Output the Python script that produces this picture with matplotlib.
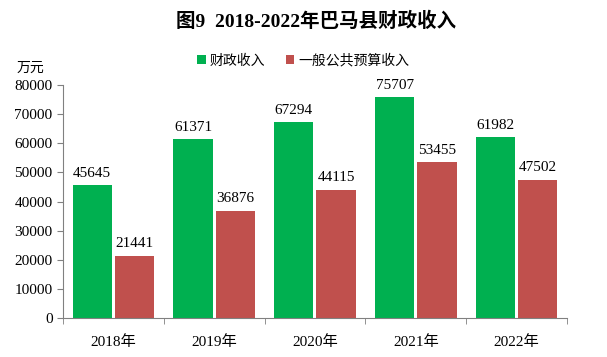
import matplotlib.pyplot as plt
import numpy as np

years = ["2018年", "2019年", "2020年", "2021年", "2022年"]
fiscal = [45645, 61371, 67294, 75707, 61982]
budget = [21441, 36876, 44115, 53455, 47502]
series_names = ["财政收入", "一般公共预算收入"]

fam = ['Liberation Serif', 'Noto Sans CJK SC']
plt.rcParams['font.family'] = fam

fig = plt.figure(figsize=(6.07, 3.57), dpi=100)
ax = fig.add_axes([0.1038, 0.109, 0.8302, 0.653])

x = np.arange(len(years))
w = 0.39
g = 0.015
b1 = ax.bar(x - w / 2 - g, fiscal, w, color='#00B050', label=series_names[0])
b2 = ax.bar(x + w / 2 + g, budget, w, color='#C0504D', label=series_names[1])

for bars in (b1, b2):
    for r in bars:
        ax.text(r.get_x() + r.get_width() / 2, r.get_height() + 1800, str(int(r.get_height())),
                ha='center', va='bottom', fontsize=11)

ax.set_xlim(-0.5, len(years) - 0.5)
ax.set_ylim(0, 80000)
ax.set_yticks(range(0, 80001, 10000))
ax.tick_params(axis='y', labelsize=11, length=4, color='#808080', direction='out')
ax.set_xticks(x)
ax.set_xticklabels(years, fontsize=11)
ax.tick_params(axis='x', length=0, pad=12)
ax.set_xticks(np.arange(-0.5, len(years)), minor=True)
ax.tick_params(axis='x', which='minor', length=4, color='#808080', direction='out')

for s in ('top', 'right'):
    ax.spines[s].set_visible(False)
for s in ('left', 'bottom'):
    ax.spines[s].set_color('#808080')

fig.text(0.52, 0.94, "图9  2018-2022年巴马县财政收入", ha='center', va='center',
         fontsize=14, fontweight='bold', family=fam)
fig.text(0.05, 0.81, "万元", ha='center', va='center', fontsize=10, family=['Noto Sans CJK SC'])

fig.legend(loc='center', bbox_to_anchor=(0.5, 0.83), ncol=2, frameon=False,
           handlelength=0.6, handleheight=0.6, handletextpad=0.3, columnspacing=1.5,
           prop={'family': ['Noto Sans CJK SC'], 'size': 10})

fig.savefig('out.png', dpi=100)
